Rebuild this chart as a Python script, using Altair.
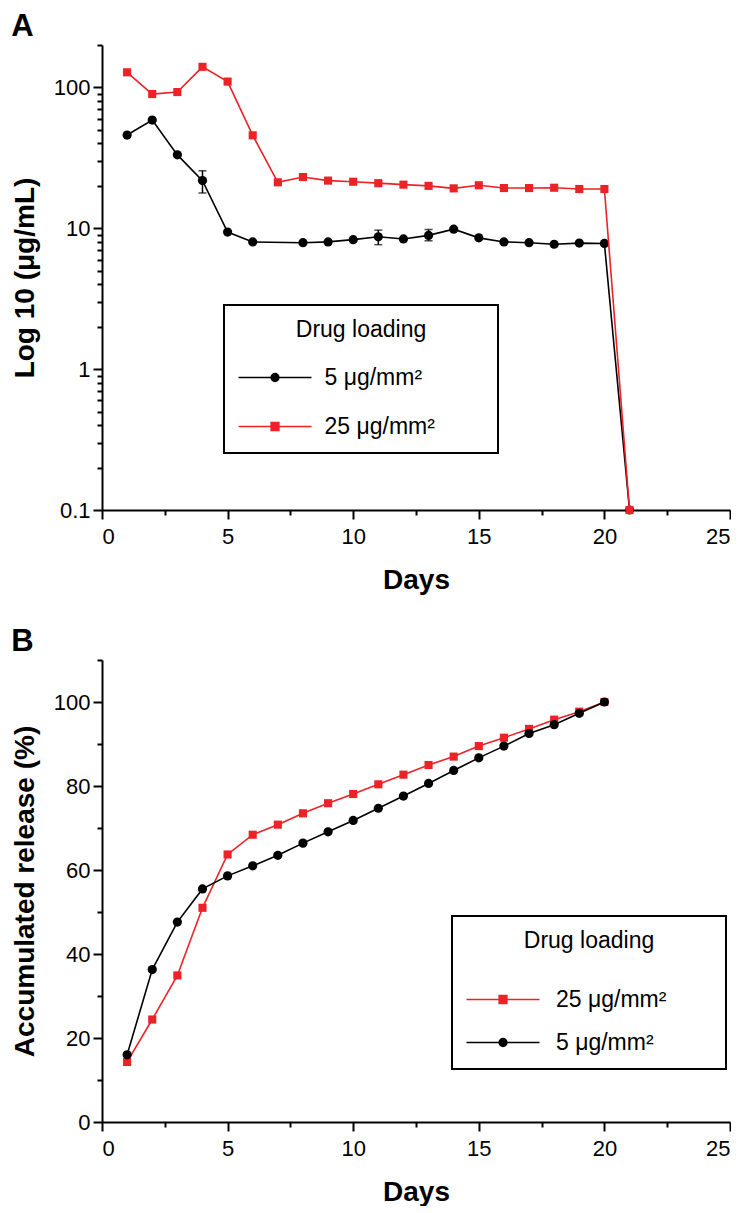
import altair as alt
import pandas as pd

# ---------------- data ----------------
series_5 = "5 μg/mm²"
series_25 = "25 μg/mm²"

# Panel A : concentration (log scale)
a_black_days = [1, 2, 3, 4, 5, 6, 8, 9, 10, 11, 12, 13, 14, 15, 16, 17, 18, 19, 20, 21]
a_black_vals = [45.9, 58.6, 33.2, 21.8, 9.4, 8.0, 7.9, 8.0, 8.3, 8.7, 8.4, 8.9, 9.85, 8.55,
                8.0, 7.9, 7.7, 7.85, 7.8, 0.1]
a_red_days = list(range(1, 22))
a_red_vals = [128, 89.7, 92.7, 140, 110, 45.7, 21.2, 23.1, 21.8, 21.4, 20.9, 20.4, 20.0,
              19.2, 20.2, 19.3, 19.3, 19.4, 19.0, 19.0, 0.1]
a_err_days = [4, 11, 13]
a_err_low = [17.8, 7.65, 8.15]
a_err_high = [25.6, 9.7, 9.8]

# Panel B : accumulated release (%)
b_days = list(range(1, 21))
b_red_vals = [14.3, 24.4, 34.9, 51.0, 63.7, 68.4, 70.8, 73.5, 75.9, 78.1, 80.4, 82.7, 85.0,
              87.0, 89.5, 91.5, 93.6, 95.8, 97.7, 100]
b_black_vals = [16.0, 36.3, 47.6, 55.5, 58.6, 61.0, 63.5, 66.4, 69.1, 71.8, 74.7, 77.6, 80.6,
                83.7, 86.7, 89.5, 92.5, 94.6, 97.3, 100]

# axis ticks
x_major = [0, 5, 10, 15, 20, 25]
x_minor = [2.5, 7.5, 12.5, 17.5, 22.5]
ya_major = [0.1, 1, 10, 100]
ya_minor = [0.2, 0.3, 0.4, 0.5, 0.6, 0.7, 0.8, 0.9, 2, 3, 4, 5, 6, 7, 8, 9,
            20, 30, 40, 50, 60, 70, 80, 90, 200]
yb_major = [0, 20, 40, 60, 80, 100]
yb_minor = [10, 30, 50, 70, 90, 110]

# ---------------- style ----------------
BLACK = "#000000"
RED = "#ec2227"
FONT = "Liberation Sans"
W = 628
H_A = 465
H_B = 462
LW = 1.6

# legend symbols: line + marker (the trailing move widens the legend box)
CIRCLE_LEG = "M-1.04,0H2.96M1.17,0A0.21,0.21,0,1,1,0.75,0A0.21,0.21,0,1,1,1.17,0ZM12.2,0"
SQUARE_LEG = "M-1.04,0H2.96M0.75,-0.21H1.17V0.21H0.75ZM12.2,0"

xscale = alt.Scale(domain=[0, 25], nice=False, zero=False)
ya_scale = alt.Scale(type="log", domain=[0.1, 200], nice=False)
yb_scale = alt.Scale(domain=[0, 110], nice=False, zero=True)

x_major_axis = alt.Axis(values=x_major, format="d", orient="bottom",
                        tickSize=9, labelPadding=7, titlePadding=19)
x_minor_axis = alt.Axis(values=x_minor, labels=False, domain=False, orient="bottom",
                        tickSize=5)


def y_major_axis(values, fmt):
    return alt.Axis(values=values, format=fmt, orient="left",
                    tickSize=9, labelPadding=3, titlePadding=14)


def y_minor_axis(values):
    return alt.Axis(values=values, labels=False, domain=False, orient="left", tickSize=5)


def df(days, vals):
    return pd.DataFrame({"day": days, "v": vals})


def legend(x, y, title_pad, row_pad, label_off):
    return alt.Legend(
        title="Drug loading", orient="none", legendX=x, legendY=y,
        padding=14, strokeColor=BLACK,
        titleFont=FONT, titleFontSize=23, titleFontWeight="normal", titleColor=BLACK,
        titleAnchor="middle", titlePadding=title_pad,
        labelFont=FONT, labelFontSize=23, labelColor=BLACK, labelOffset=label_off,
        rowPadding=row_pad, symbolSize=1332, symbolStrokeWidth=LW, symbolOpacity=1,
    )


def legend_layer(order, colors, shapes, leg):
    d = pd.DataFrame({"series": order})
    return alt.Chart(d).mark_point(filled=True, strokeWidth=LW, size=1332).encode(
        fill=alt.Fill("series:N", scale=alt.Scale(domain=order, range=colors), legend=leg),
        stroke=alt.Stroke("series:N", scale=alt.Scale(domain=order, range=colors), legend=leg),
        shape=alt.Shape("series:N", scale=alt.Scale(domain=order, range=shapes), legend=leg),
    ).transform_filter("false")


# ---------------- panel A ----------------
a_black_line = alt.Chart(df(a_black_days, a_black_vals)).mark_line(
    color=BLACK, strokeWidth=LW).encode(
    x=alt.X("day:Q", scale=xscale, axis=x_major_axis, title="Days"),
    y=alt.Y("v:Q", scale=ya_scale, axis=y_major_axis(ya_major, "~g"), title="Log 10 (μg/mL)"),
)
a_black_pts = alt.Chart(df(a_black_days, a_black_vals)).mark_point(
    shape="circle", filled=True, color=BLACK, size=85, opacity=1).encode(
    x=alt.X("day:Q", scale=xscale, axis=x_minor_axis, title=None),
    y=alt.Y("v:Q", scale=ya_scale, axis=y_minor_axis(ya_minor), title=None),
)
err_df = pd.DataFrame({"day": a_err_days, "lo": a_err_low, "hi": a_err_high})
a_err_rule = alt.Chart(err_df).mark_rule(color=BLACK, strokeWidth=1.5).encode(
    x=alt.X("day:Q", scale=xscale, axis=None),
    y=alt.Y("lo:Q", scale=ya_scale, axis=None),
    y2="hi:Q",
)
a_err_lo = alt.Chart(err_df).mark_tick(color=BLACK, orient="horizontal", size=8,
                                        thickness=1.5).encode(
    x=alt.X("day:Q", scale=xscale, axis=None),
    y=alt.Y("lo:Q", scale=ya_scale, axis=None),
)
a_err_hi = alt.Chart(err_df).mark_tick(color=BLACK, orient="horizontal", size=8,
                                        thickness=1.5).encode(
    x=alt.X("day:Q", scale=xscale, axis=None),
    y=alt.Y("hi:Q", scale=ya_scale, axis=None),
)
a_red_line = alt.Chart(df(a_red_days, a_red_vals)).mark_line(
    color=RED, strokeWidth=LW).encode(
    x=alt.X("day:Q", scale=xscale, axis=None),
    y=alt.Y("v:Q", scale=ya_scale, axis=None),
)
a_red_pts = alt.Chart(df(a_red_days, a_red_vals)).mark_point(
    shape="square", filled=True, color=RED, size=66, opacity=1).encode(
    x=alt.X("day:Q", scale=xscale, axis=None),
    y=alt.Y("v:Q", scale=ya_scale, axis=None),
)
a_order = [series_5, series_25]
a_leg = legend_layer(a_order, [BLACK, RED], [CIRCLE_LEG, SQUARE_LEG],
                     legend(122, 260, 16, 17, 47.5))

panel_a = alt.layer(
    a_black_line, a_black_pts, a_err_rule, a_err_lo, a_err_hi, a_red_line, a_red_pts, a_leg
).resolve_axis(x="independent", y="independent").properties(
    width=W, height=H_A,
    title=alt.TitleParams("A", anchor="start", frame="bounds", fontSize=31,
                          fontWeight="bold", font=FONT, color=BLACK, offset=1),
)

# ---------------- panel B ----------------
b_red_line = alt.Chart(df(b_days, b_red_vals)).mark_line(
    color=RED, strokeWidth=LW).encode(
    x=alt.X("day:Q", scale=xscale, axis=x_major_axis, title="Days"),
    y=alt.Y("v:Q", scale=yb_scale, axis=y_major_axis(yb_major, "d"),
            title="Accumulated release (%)"),
)
b_red_pts = alt.Chart(df(b_days, b_red_vals)).mark_point(
    shape="square", filled=True, color=RED, size=66, opacity=1).encode(
    x=alt.X("day:Q", scale=xscale, axis=x_minor_axis, title=None),
    y=alt.Y("v:Q", scale=yb_scale, axis=y_minor_axis(yb_minor), title=None),
)
b_black_line = alt.Chart(df(b_days, b_black_vals)).mark_line(
    color=BLACK, strokeWidth=LW).encode(
    x=alt.X("day:Q", scale=xscale, axis=None),
    y=alt.Y("v:Q", scale=yb_scale, axis=None),
)
b_black_pts = alt.Chart(df(b_days, b_black_vals)).mark_point(
    shape="circle", filled=True, color=BLACK, size=85, opacity=1).encode(
    x=alt.X("day:Q", scale=xscale, axis=None),
    y=alt.Y("v:Q", scale=yb_scale, axis=None),
)
b_order = [series_25, series_5]
b_leg = legend_layer(b_order, [RED, BLACK], [SQUARE_LEG, CIRCLE_LEG],
                     legend(350, 256, 27, 11, 51))

panel_b = alt.layer(
    b_red_line, b_red_pts, b_black_line, b_black_pts, b_leg
).resolve_axis(x="independent", y="independent").properties(
    width=W, height=H_B,
    title=alt.TitleParams("B", anchor="start", frame="bounds", fontSize=31,
                          fontWeight="bold", font=FONT, color=BLACK, offset=1),
)

chart = alt.vconcat(panel_a, panel_b, spacing=32).resolve_scale(
    x="independent", y="independent", fill="independent", stroke="independent",
    shape="independent",
).properties(
    padding={"left": 3, "top": 3, "right": 0, "bottom": 0}, background="white"
).configure_view(stroke=None).configure_axis(
    labelFont=FONT, labelFontSize=22, labelColor=BLACK,
    titleFont=FONT, titleFontSize=28, titleFontWeight="bold", titleColor=BLACK,
    domainColor=BLACK, domainWidth=2, tickColor=BLACK, tickWidth=2, grid=False,
).configure_legend(strokeWidth=2)

chart.save("out.html", embed_options={"renderer": "svg", "actions": False})
